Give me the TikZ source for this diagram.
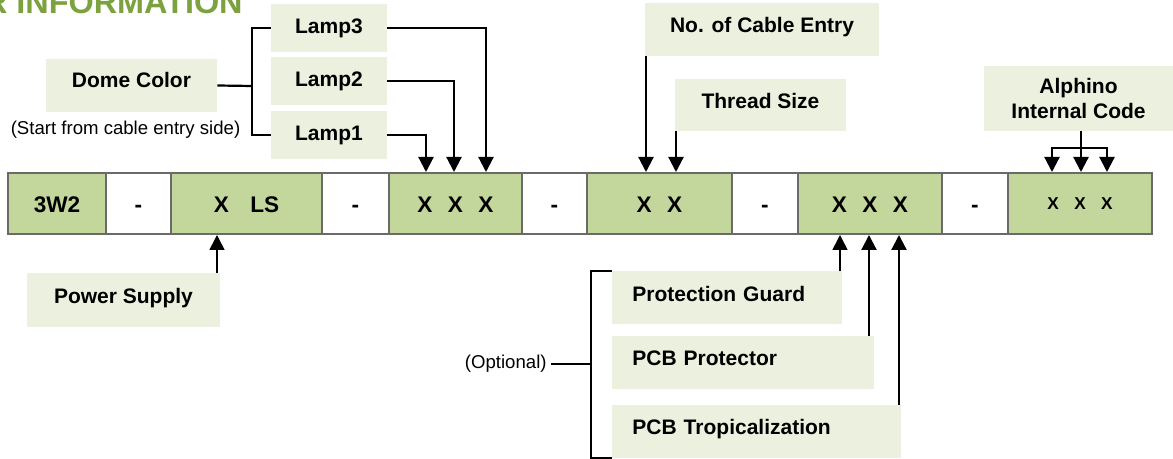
\documentclass[tikz,border=0pt]{standalone}
\usepackage{fontspec}
\setmainfont{Liberation Sans}
\usetikzlibrary{arrows.meta,calc,positioning}
\tikzset{>={Triangle[width=7.5pt,length=7.5pt]}}
\definecolor{codegreen}{HTML}{C3D69B}
\definecolor{labelgreen}{HTML}{EBF1DE}
\definecolor{titlegreen}{HTML}{7BA23F}
\definecolor{boxgray}{HTML}{6A6A6A}

\begin{document}
\begin{tikzpicture}[x=0.5pt, y=-0.5pt]
  \tikzstyle{cbox} = [draw=boxgray, line width=1.25pt, fill=codegreen, minimum height=30.5pt, inner sep=0pt, text height=9.5pt, text depth=0pt, font=\fontsize{11.3}{13}\selectfont\bfseries]
  \tikzstyle{dbox} = [cbox, fill=white]
  \tikzstyle{lbox} = [fill=labelgreen, inner sep=0pt, align=center, font=\fontsize{10.5}{12.5}\selectfont\bfseries]
  \tikzstyle{sbox} = [lbox, text height=8pt, text depth=4.7pt]
  \tikzstyle{obox} = [sbox, align=left, inner xsep=10pt, minimum height=26.5pt, anchor=west]
  \tikzstyle{note} = [inner sep=0pt, font=\fontsize{9.3}{11}\selectfont]
  \tikzstyle{wire} = [line width=1.1pt]
  \tikzstyle{thin} = [line width=0.8pt]
  \useasboundingbox (0,0) rectangle (1173,459);

  % title, cut off at the page edge
  \node[anchor=base east, inner sep=0pt, text=titlegreen, font=\fontsize{16.2}{18}\selectfont\bfseries] (title) at (243,14) {R INFORMATION};

  % code row
  \node[cbox, minimum width=49pt] (c1) at (57,203.5) {3W2};
  \node[dbox, minimum width=32.5pt] (d1) at (138.5,203.5) {-};
  \node[cbox, minimum width=75.5pt] (c2) at (246.5,203.5) {X\hspace{10.75pt}LS\hspace{7.5pt}};
  \node[dbox, minimum width=33.5pt] (d2) at (355.5,203.5) {-};
  \node[cbox, minimum width=66.5pt] (c3) at (455.5,203.5) {X\hspace{7.7pt}X\hspace{7.7pt}X};
  \node[dbox, minimum width=32.5pt] (d3) at (554.5,203.5) {-};
  \node[cbox, minimum width=72.5pt] (c4) at (659.5,203.5) {X\hspace{7.7pt}X};
  \node[dbox, minimum width=33pt] (d4) at (765,203.5) {-};
  \node[cbox, minimum width=72pt] (c5) at (870,203.5) {X\hspace{7.7pt}X\hspace{7.7pt}X};
  \node[dbox, minimum width=33pt] (d5) at (975,203.5) {-};
  \node[cbox, minimum width=72pt, text height=6.5pt, font=\fontsize{8.6}{10}\selectfont\bfseries] (c6) at (1080,203.5) {X\hspace{7.75pt}X\hspace{7.75pt}X};

  % labels above
  \node[sbox, minimum width=58pt, minimum height=24pt, text depth=2.7pt] (lamp3) at (329,28) {Lamp3};
  \node[sbox, minimum width=58pt, minimum height=24pt, text depth=2.7pt] (lamp2) at (329,81) {Lamp2};
  \node[sbox, minimum width=58pt, minimum height=24pt, text depth=2.7pt] (lamp1) at (329,135) {Lamp1};
  \node[sbox, minimum width=85.5pt, minimum height=26.5pt, text depth=5.5pt] (dome) at (131.5,85.5) {Dome Color};
  \node[note, anchor=base] (side) at (125.5,135) {(Start from cable entry side)};
  \node[sbox, minimum width=117pt, minimum height=26.5pt] (cable) at (762,29.5) {No. of Cable Entry};
  \node[sbox, minimum width=85.5pt, minimum height=26pt] (thread) at (760.5,105) {Thread Size};
  \node[lbox, minimum width=94.5pt, minimum height=32.5pt] (alph) at (1078.5,98.5) {Alphino\\Internal Code};

  % labels below
  \node[sbox, minimum width=96.5pt, minimum height=27pt] (power) at (123.5,300) {Power Supply};
  \node[obox, text width=95pt] (guard) at (612,298) {Protection Guard};
  \node[obox, text width=111pt] (prot) at (612,362.5) {PCB Protector};
  \node[obox, text width=124.5pt] (trop) at (612,431.5) {PCB Tropicalization};
  \node[note, anchor=east] (opt) at (547,364) {(Optional)};

  % arrow ends
  \coordinate (djoin) at (252,86);
  \coordinate (l1tip) at (426,172);
  \coordinate (l2tip) at (454,172);
  \coordinate (l3tip) at (486,172);
  \coordinate (cetip) at (646,172);
  \coordinate (tstip) at (676,172);
  \coordinate (ajoin) at (1081,148);
  \coordinate (ac1) at (1052,172);
  \coordinate (ac2) at (1081,172);
  \coordinate (ac3) at (1107,172);
  \coordinate (pstip) at (217,235);
  \coordinate (pgtip) at (840,235);
  \coordinate (pptip) at (869,235);
  \coordinate (pttip) at (899,235);
  \coordinate (ojoin) at (591,364);

  \draw[wire] (dome.east) -- (djoin);
  \draw[wire] (lamp3.west) -| (djoin) |- (lamp1.west);
  \draw[wire,->] (lamp1.east) -| (l1tip);
  \draw[wire,->] (lamp2.east) -| (l2tip);
  \draw[wire,->] (lamp3.east) -| (l3tip);
  \draw[wire,->] (cable.south west -| cetip) -- (cetip);
  \draw[wire,->] (thread.south west -| tstip) -- (tstip);
  \draw[wire] (alph.south -| ajoin) -- (ajoin);
  \foreach \t in {ac1,ac2,ac3}
    \draw[wire,->] (ajoin) -| (\t);

  \draw[thin,->] (power.north east -| pstip) -- (pstip);
  \draw[thin,->] (guard.north east -| pgtip) -- (pgtip);
  \draw[wire,->] (prot.north east -| pptip) -- (pptip);
  \draw[wire,->] (trop.north east -| pttip) -- (pttip);
  \draw[wire] (guard.north west) -- ++(-21,0) |- (trop.south west);
  \draw[line width=1.3pt] ([xshift=2pt]opt.east) -- (ojoin);
\end{tikzpicture}
\end{document}
